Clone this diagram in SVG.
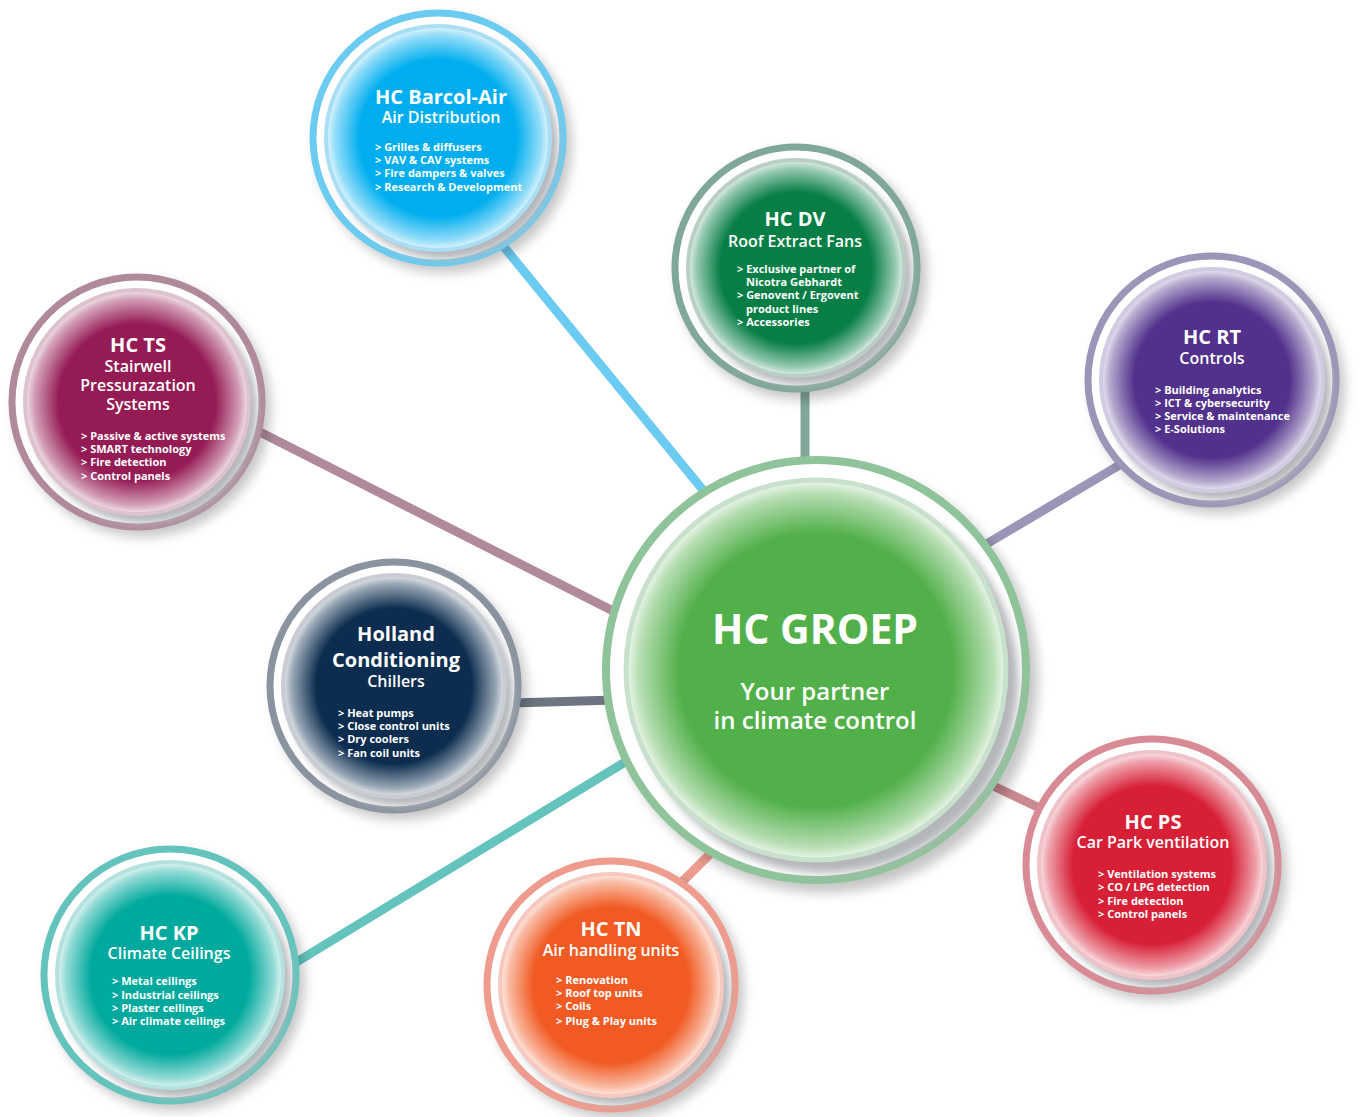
<svg xmlns="http://www.w3.org/2000/svg" width="1362" height="1117" viewBox="0 0 1362 1117">
<defs>
<style>
text{fill:#fff;font-family:"Open Sans","Noto Sans","DejaVu Sans",sans-serif;}
.t{font-size:20px;font-weight:700;text-anchor:middle;}
.s{font-size:16px;font-weight:600;text-anchor:middle;}
.b{font-size:11px;font-weight:700;}
.ct{font-size:41px;font-weight:700;text-anchor:middle;}
.cs{font-size:24px;font-weight:600;text-anchor:middle;}
.drop{fill:#000;opacity:.22;filter:url(#blur6);}
.shade{fill:#b4b6ba;filter:url(#blur4);}
.base{fill:#fff;}
.conn line{stroke-width:9;fill:none;}
</style>
<filter id="blur6" x="-20%" y="-20%" width="140%" height="140%"><feGaussianBlur stdDeviation="6"/></filter>
<filter id="blur4" x="-20%" y="-20%" width="140%" height="140%"><feGaussianBlur stdDeviation="4"/></filter>
<radialGradient id="gBlue"><stop offset="0" stop-color="#00aeef"/><stop offset=".7" stop-color="#00aeef"/><stop offset=".92" stop-color="#00aeef" stop-opacity=".42"/><stop offset="1" stop-color="#00aeef" stop-opacity=".1"/></radialGradient>
<radialGradient id="gDV"><stop offset="0" stop-color="#067e45"/><stop offset=".7" stop-color="#067e45"/><stop offset=".92" stop-color="#067e45" stop-opacity=".42"/><stop offset="1" stop-color="#067e45" stop-opacity=".1"/></radialGradient>
<radialGradient id="gTS"><stop offset="0" stop-color="#951b55"/><stop offset=".7" stop-color="#951b55"/><stop offset=".92" stop-color="#951b55" stop-opacity=".42"/><stop offset="1" stop-color="#951b55" stop-opacity=".1"/></radialGradient>
<radialGradient id="gRT"><stop offset="0" stop-color="#51318b"/><stop offset=".7" stop-color="#51318b"/><stop offset=".92" stop-color="#51318b" stop-opacity=".42"/><stop offset="1" stop-color="#51318b" stop-opacity=".1"/></radialGradient>
<radialGradient id="gHC"><stop offset="0" stop-color="#0c2d4f"/><stop offset=".7" stop-color="#0c2d4f"/><stop offset=".92" stop-color="#0c2d4f" stop-opacity=".42"/><stop offset="1" stop-color="#0c2d4f" stop-opacity=".1"/></radialGradient>
<radialGradient id="gPS"><stop offset="0" stop-color="#d71f36"/><stop offset=".7" stop-color="#d71f36"/><stop offset=".92" stop-color="#d71f36" stop-opacity=".42"/><stop offset="1" stop-color="#d71f36" stop-opacity=".1"/></radialGradient>
<radialGradient id="gTN"><stop offset="0" stop-color="#f15a22"/><stop offset=".7" stop-color="#f15a22"/><stop offset=".92" stop-color="#f15a22" stop-opacity=".42"/><stop offset="1" stop-color="#f15a22" stop-opacity=".1"/></radialGradient>
<radialGradient id="gKP"><stop offset="0" stop-color="#00a99d"/><stop offset=".7" stop-color="#00a99d"/><stop offset=".92" stop-color="#00a99d" stop-opacity=".42"/><stop offset="1" stop-color="#00a99d" stop-opacity=".1"/></radialGradient>
<radialGradient id="gC"><stop offset="0" stop-color="#52b04a"/><stop offset=".72" stop-color="#52b04a"/><stop offset=".93" stop-color="#52b04a" stop-opacity=".42"/><stop offset="1" stop-color="#52b04a" stop-opacity=".1"/></radialGradient>
</defs>
<rect width="1362" height="1117" fill="#fff"/>

<g id="connectors" class="conn">
<line x1="495" y1="236" x2="712" y2="501" stroke="#6ccbf0"/>
<line x1="805" y1="385" x2="805" y2="470" stroke="#7fa898"/>
<line x1="250" y1="427" x2="625" y2="617" stroke="#b08a9b"/>
<line x1="1128" y1="460" x2="978" y2="549" stroke="#9b95b7"/>
<line x1="512" y1="703" x2="615" y2="700" stroke="#6d7582"/>
<line x1="985" y1="782" x2="1050" y2="813" stroke="#c98a90"/>
<line x1="680" y1="884" x2="722" y2="842" stroke="#ec9c90"/>
<line x1="290" y1="966" x2="635" y2="756" stroke="#64c4bd"/>
</g>

<g id="node-barcol">
<circle cx="444" cy="145" r="128" class="drop"/>
<circle cx="438" cy="138" r="125" class="base" stroke="#6ccbf0" stroke-width="7"/>
<circle cx="445" cy="146" r="113" class="shade"/>
<circle cx="438" cy="138" r="112" class="base"/>
<circle cx="438" cy="138" r="112" fill="url(#gBlue)" stroke="#a9def5" stroke-width="4"/>
<text class="t" x="441" y="104">HC Barcol-Air</text>
<text class="s" x="441" y="123">Air Distribution</text>
<text class="b" x="375" y="151">&gt; Grilles &amp; diffusers</text>
<text class="b" x="375" y="164">&gt; VAV &amp; CAV systems</text>
<text class="b" x="375" y="177">&gt; Fire dampers &amp; valves</text>
<text class="b" x="375" y="191">&gt; Research &amp; Development</text>
</g>

<g id="node-dv">
<circle cx="802" cy="275" r="125" class="drop"/>
<circle cx="796" cy="268" r="121" class="base" stroke="#7fa898" stroke-width="7"/>
<circle cx="803" cy="276" r="109" class="shade"/>
<circle cx="796" cy="268" r="108" class="base"/>
<circle cx="796" cy="268" r="108" fill="url(#gDV)" stroke="#b9cfc6" stroke-width="4"/>
<text class="t" x="795" y="226">HC DV</text>
<text class="s" x="795" y="247">Roof Extract Fans</text>
<text class="b" x="737" y="273">&gt; Exclusive partner of</text>
<text class="b" x="746" y="286">Nicotra Gebhardt</text>
<text class="b" x="737" y="299">&gt; Genovent / Ergovent</text>
<text class="b" x="746" y="313">product lines</text>
<text class="b" x="737" y="326">&gt; Accessories</text>
</g>

<g id="node-ts">
<circle cx="143" cy="409" r="128" class="drop"/>
<circle cx="137" cy="402" r="125" class="base" stroke="#b08a9b" stroke-width="7"/>
<circle cx="144" cy="410" r="113" class="shade"/>
<circle cx="137" cy="402" r="112" class="base"/>
<circle cx="137" cy="402" r="112" fill="url(#gTS)" stroke="#dcc3cd" stroke-width="4"/>
<text class="t" x="138" y="352">HC TS</text>
<text class="s" x="138" y="372">Stairwell</text>
<text class="s" x="138" y="391">Pressurazation</text>
<text class="s" x="138" y="410">Systems</text>
<text class="b" x="81" y="440">&gt; Passive &amp; active systems</text>
<text class="b" x="81" y="453">&gt; SMART technology</text>
<text class="b" x="81" y="466">&gt; Fire detection</text>
<text class="b" x="81" y="480">&gt; Control panels</text>
</g>

<g id="node-rt">
<circle cx="1218" cy="387" r="127" class="drop"/>
<circle cx="1212" cy="380" r="124" class="base" stroke="#9b95b7" stroke-width="7"/>
<circle cx="1219" cy="388" r="112" class="shade"/>
<circle cx="1212" cy="380" r="111" class="base"/>
<circle cx="1212" cy="380" r="111" fill="url(#gRT)" stroke="#cfcbe0" stroke-width="4"/>
<text class="t" x="1212" y="344">HC RT</text>
<text class="s" x="1212" y="364">Controls</text>
<text class="b" x="1155" y="394">&gt; Building analytics</text>
<text class="b" x="1155" y="407">&gt; ICT &amp; cybersecurity</text>
<text class="b" x="1155" y="420">&gt; Service &amp; maintenance</text>
<text class="b" x="1155" y="433">&gt; E-Solutions</text>
</g>

<g id="node-holland">
<circle cx="400" cy="693" r="127" class="drop"/>
<circle cx="394" cy="686" r="124" class="base" stroke="#8a93a0" stroke-width="7"/>
<circle cx="401" cy="694" r="112" class="shade"/>
<circle cx="394" cy="686" r="111" class="base"/>
<circle cx="394" cy="686" r="111" fill="url(#gHC)" stroke="#c9cdd3" stroke-width="4"/>
<text class="t" x="396" y="641">Holland</text>
<text class="t" x="396" y="667">Conditioning</text>
<text class="s" x="396" y="687">Chillers</text>
<text class="b" x="338" y="717">&gt; Heat pumps</text>
<text class="b" x="338" y="730">&gt; Close control units</text>
<text class="b" x="338" y="743">&gt; Dry coolers</text>
<text class="b" x="338" y="757">&gt; Fan coil units</text>
</g>

<g id="node-ps">
<circle cx="1158" cy="872" r="129" class="drop"/>
<circle cx="1152" cy="865" r="126" class="base" stroke="#d88b94" stroke-width="7"/>
<circle cx="1159" cy="873" r="114" class="shade"/>
<circle cx="1152" cy="865" r="113" class="base"/>
<circle cx="1152" cy="865" r="113" fill="url(#gPS)" stroke="#efc3c8" stroke-width="4"/>
<text class="t" x="1153" y="829">HC PS</text>
<text class="s" x="1153" y="848">Car Park ventilation</text>
<text class="b" x="1098" y="878">&gt; Ventilation systems</text>
<text class="b" x="1098" y="891">&gt; CO / LPG detection</text>
<text class="b" x="1098" y="905">&gt; Fire detection</text>
<text class="b" x="1098" y="918">&gt; Control panels</text>
</g>

<g id="node-tn">
<circle cx="617" cy="992" r="127" class="drop"/>
<circle cx="611" cy="985" r="124" class="base" stroke="#ef9b8d" stroke-width="7"/>
<circle cx="618" cy="993" r="112" class="shade"/>
<circle cx="611" cy="985" r="111" class="base"/>
<circle cx="611" cy="985" r="111" fill="url(#gTN)" stroke="#f7c8bf" stroke-width="4"/>
<text class="t" x="611" y="936">HC TN</text>
<text class="s" x="611" y="956">Air handling units</text>
<text class="b" x="556" y="984">&gt; Renovation</text>
<text class="b" x="556" y="997">&gt; Roof top units</text>
<text class="b" x="556" y="1010">&gt; Coils</text>
<text class="b" x="556" y="1025">&gt; Plug &amp; Play units</text>
</g>

<g id="node-kp">
<circle cx="176" cy="982" r="129" class="drop"/>
<circle cx="170" cy="975" r="126" class="base" stroke="#64c4bd" stroke-width="7"/>
<circle cx="177" cy="983" r="114" class="shade"/>
<circle cx="170" cy="975" r="113" class="base"/>
<circle cx="170" cy="975" r="113" fill="url(#gKP)" stroke="#b5e2de" stroke-width="4"/>
<text class="t" x="169" y="940">HC KP</text>
<text class="s" x="169" y="959">Climate Ceilings</text>
<text class="b" x="112" y="985">&gt; Metal ceilings</text>
<text class="b" x="112" y="999">&gt; Industrial ceilings</text>
<text class="b" x="112" y="1012">&gt; Plaster ceilings</text>
<text class="b" x="112" y="1025">&gt; Air climate ceilings</text>
</g>

<g id="node-center">
<circle cx="824" cy="679" r="214" class="drop"/>
<circle cx="816" cy="670" r="210" class="base" stroke="#8fc39a" stroke-width="8"/>
<circle cx="826" cy="681" r="192" class="shade"/>
<circle cx="816" cy="670" r="190" class="base"/>
<circle cx="816" cy="670" r="190" fill="url(#gC)" stroke="#c8e1cd" stroke-width="5"/>
<text class="ct" x="815" y="644">HC GROEP</text>
<text class="cs" x="815" y="700">Your partner</text>
<text class="cs" x="815" y="729">in climate control</text>
</g>
</svg>
